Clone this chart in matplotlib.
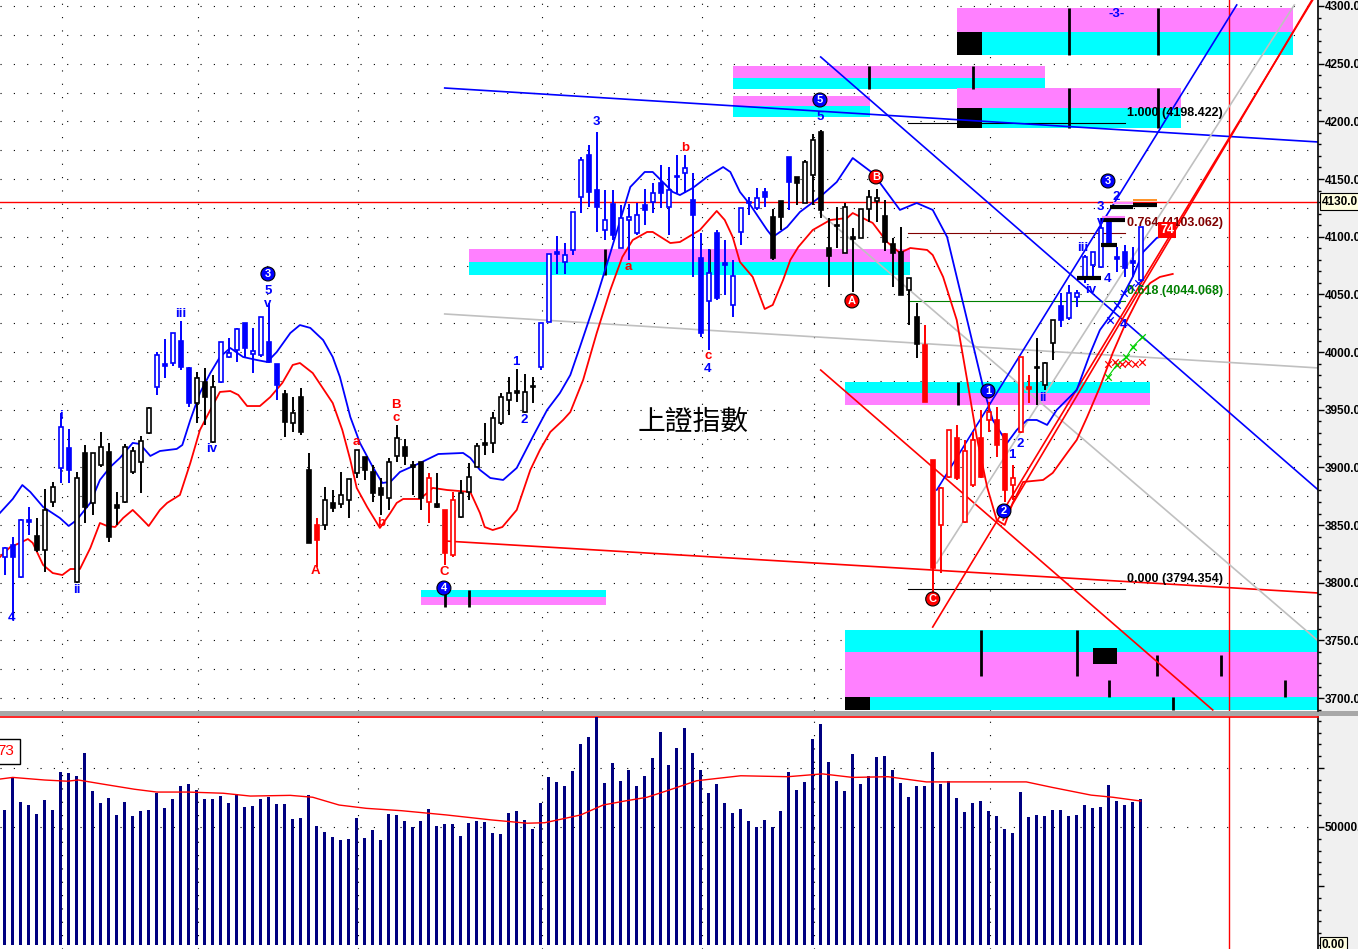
import matplotlib
matplotlib.use("Agg")
import matplotlib.pyplot as plt
import matplotlib.transforms as mtransforms
from matplotlib.patches import Rectangle
from matplotlib.ticker import MultipleLocator, FixedLocator, FuncFormatter

plt.rcParams['font.family'] = ['Liberation Sans', 'DejaVu Sans']

# ---------------- data ----------------
opens = [3822.3, 3832.7, 3805.0, 3853.0, 3840.5, 3828.4, 3870.0, 3899.5, 3916.8, 3800.7,
         3912.5, 3869.2, 3902.1, 3913.4, 3867.4, 3870.0, 3896.0, 3904.7, 3929.8, 3969.7,
         3987.9, 3990.5, 4009.6, 3986.2, 3955.8, 3974.0, 3922.0, 3974.0, 3995.7, 4001.8,
         4025.2, 3998.3, 3997.4, 4008.7, 3989.6, 3963.6, 3938.5, 3961.0, 3897.8, 3850.1,
         3850.1, 3869.2, 3868.3, 3871.7, 3895.2, 3909.0, 3896.0, 3882.2, 3873.5, 3909.9,
         3917.7, 3902.1, 3904.7, 3870.0, 3868.3, 3863.1, 3824.1, 3857.0, 3878.7, 3900.4,
         3919.4, 3921.2, 3938.5, 3958.4, 3964.5, 3948.0, 3970.5, 3987.0, 4026.1, 4085.0,
         4078.1, 4088.5, 4134.4, 4170.8, 4140.5, 4105.8, 4128.3, 4090.2, 4114.5, 4103.2,
         4127.5, 4130.1, 4146.6, 4125.7, 4151.8, 4155.2, 4131.8, 4081.5, 4044.3, 4103.2,
         4077.2, 4040.8, 4104.1, 4129.2, 4124.9, 4138.8, 4117.1, 4131.0, 4169.1, 4151.8,
         4129.2, 4153.5, 4190.8, 4090.2, 4110.1, 4085.9, 4099.7, 4098.9, 4124.0, 4131.0,
         4118.0, 4093.7, 4086.7, 4053.8, 4030.4, 4006.1, 3906.4, 3850.1, 3891.7, 3925.5,
         3852.7, 3884.8, 3925.5, 3941.1, 3941.1, 3929.0, 3884.8, 3930.7, 3968.0, 3987.0,
         3971.4, 4007.8, 4039.9, 4029.5, 4047.7, 4064.2, 4075.5, 4073.7, 4112.8, 4082.4,
         4086.7, 4077.5, 4062.5]
closes = [3830.1, 3822.3, 3854.4, 3854.4, 3828.4, 3863.1, 3883.0, 3935.0, 3897.8, 3890.8,
          3865.7, 3912.5, 3917.7, 3839.7, 3864.8, 3917.7, 3914.2, 3922.9, 3951.5, 3997.4,
          3989.6, 4016.5, 3987.0, 3955.8, 3977.5, 3961.0, 3969.7, 4008.7, 3999.2, 4020.0,
          4003.5, 4001.0, 4030.4, 3991.4, 3971.4, 3939.4, 3947.2, 3930.7, 3834.5, 3837.1,
          3871.7, 3864.8, 3876.1, 3889.9, 3915.1, 3897.8, 3877.8, 3876.1, 3904.7, 3925.5,
          3909.9, 3900.4, 3873.5, 3890.8, 3865.7, 3825.8, 3871.7, 3877.8, 3891.7, 3918.6,
          3921.2, 3942.8, 3961.0, 3964.5, 3966.2, 3965.4, 3969.7, 4025.2, 4085.0, 4086.7,
          4084.1, 4121.4, 4166.5, 4138.8, 4125.7, 4114.5, 4101.5, 4116.2, 4117.1, 4118.8,
          4123.2, 4137.9, 4137.9, 4140.5, 4152.6, 4159.6, 4118.8, 4016.5, 4068.5, 4046.9,
          4075.5, 4065.9, 4124.9, 4130.1, 4133.5, 4134.4, 4081.5, 4117.1, 4147.4, 4146.6,
          4164.8, 4183.8, 4123.2, 4083.3, 4109.3, 4125.7, 4098.0, 4124.0, 4134.4, 4133.5,
          4095.4, 4085.9, 4049.5, 4064.2, 4007.0, 3956.7, 3812.8, 3882.2, 3932.4, 3890.8,
          3914.2, 3923.8, 3891.7, 3948.0, 3919.4, 3880.4, 3890.8, 3995.7, 3969.0, 3986.2,
          3990.5, 4027.8, 4027.8, 4051.2, 4051.2, 4082.4, 4086.7, 4107.6, 4092.8, 4080.7,
          4072.9, 4078.5, 4108.4]
highs = [3831.0, 3839.7, 3855.0, 3865.7, 3856.1, 3881.3, 3887.4, 3947.2, 3933.3, 3896.0,
         3919.4, 3912.5, 3930.7, 3921.2, 3878.7, 3920.3, 3917.7, 3927.2, 3952.0, 4000.0,
         4011.3, 4016.8, 4027.0, 3987.0, 3982.7, 3986.2, 3980.1, 4009.0, 4012.2, 4020.5,
         4025.5, 4020.9, 4030.5, 4042.5, 3989.6, 3967.1, 3961.0, 3968.8, 3912.5, 3856.1,
         3883.0, 3880.4, 3896.0, 3890.0, 3915.3, 3909.2, 3902.1, 3890.8, 3908.2, 3936.8,
         3924.6, 3905.6, 3904.7, 3895.2, 3895.2, 3863.1, 3878.7, 3889.1, 3903.8, 3921.2,
         3938.5, 3948.0, 3964.5, 3978.4, 3985.3, 3981.0, 3978.4, 4025.2, 4085.0, 4100.6,
         4094.5, 4121.4, 4169.1, 4179.5, 4190.8, 4140.5, 4140.5, 4127.5, 4128.3, 4129.2,
         4141.4, 4146.6, 4162.2, 4160.4, 4170.8, 4170.8, 4155.2, 4103.2, 4089.3, 4105.8,
         4097.1, 4079.8, 4124.9, 4134.4, 4142.2, 4142.2, 4124.0, 4131.0, 4169.1, 4151.8,
         4166.5, 4189.0, 4192.5, 4116.2, 4125.7, 4129.2, 4107.6, 4124.0, 4140.5, 4141.4,
         4131.8, 4098.9, 4108.4, 4064.2, 4042.5, 4023.4, 3906.4, 3883.0, 3932.4, 3936.8,
         3923.8, 3930.7, 3949.8, 3956.7, 3952.4, 3929.8, 3902.1, 3995.7, 3980.1, 4012.2,
         3991.4, 4027.8, 4051.2, 4058.1, 4053.8, 4084.1, 4086.7, 4116.2, 4114.5, 4091.1,
         4092.8, 4091.1, 4108.4]
lows = [3806.7, 3767.7, 3804.0, 3841.4, 3826.7, 3809.3, 3865.7, 3886.5, 3886.5, 3799.8,
        3851.8, 3858.7, 3900.4, 3835.3, 3850.1, 3869.2, 3894.3, 3877.8, 3929.0, 3962.8,
        3977.5, 3987.9, 3984.4, 3952.4, 3938.5, 3936.8, 3921.2, 3973.0, 3994.8, 3991.4,
        3995.7, 3981.8, 3995.7, 3990.5, 3958.4, 3926.4, 3930.7, 3928.1, 3834.5, 3813.7,
        3845.8, 3861.3, 3864.8, 3856.1, 3890.8, 3889.1, 3870.0, 3858.7, 3863.1, 3904.7,
        3902.1, 3876.1, 3863.1, 3851.8, 3864.8, 3815.4, 3822.3, 3856.1, 3871.7, 3900.4,
        3910.8, 3912.5, 3936.8, 3945.4, 3956.7, 3947.2, 3955.8, 3984.4, 4026.1, 4067.7,
        4067.7, 4084.1, 4120.5, 4125.7, 4104.1, 4097.1, 4097.1, 4090.2, 4079.8, 4101.5,
        4110.1, 4120.5, 4124.9, 4101.5, 4137.9, 4137.9, 4065.1, 4013.0, 4001.8, 4045.1,
        4049.5, 4030.4, 4092.8, 4118.8, 4123.2, 4125.7, 4079.8, 4105.8, 4123.2, 4127.5,
        4129.2, 4127.5, 4116.2, 4056.4, 4090.2, 4085.9, 4052.1, 4098.9, 4112.8, 4112.8,
        4087.6, 4056.4, 4049.5, 4023.4, 3994.8, 3956.7, 3787.7, 3808.4, 3891.0, 3889.1,
        3851.8, 3883.0, 3891.0, 3930.7, 3909.0, 3870.0, 3871.7, 3930.0, 3955.8, 3954.1,
        3967.1, 3993.1, 4021.7, 4027.8, 4039.1, 4059.9, 4064.2, 4072.9, 4091.1, 4069.4,
        4065.1, 4065.1, 4060.7]
# wave colour of each candle: B blue, K black, R red
kinds = ("BBBB" "KKK" "BB" "KKKKKKKKKK" "BBBBB" "KKK" "BBBBBBBB" "KKKK" "R"
         "KKKKKKKKKKKKK" "R" "K" "RR" "KKKKKKKKKK" "BBBBBBBBBBBBBBBBBBBBBBBBBBBBB" "KK" "B"
         "KKKKKKKKKKKKKKKK" "RRRRRRRRRRRRRR" "KKK" "BBBBBBBBBBB")
volumes = [57200, 71000, 60600, 59300, 55500, 61400, 57200, 73400, 73000, 71600,
           81500, 65400, 60000, 62100, 55100, 60700, 54700, 56900, 57200, 64500,
           58200, 61900, 67400, 68200, 65700, 61900, 61900, 63100, 60300, 63800,
           58600, 58900, 61900, 62800, 59700, 59700, 53500, 53800, 63500, 50600,
           47900, 45900, 44500, 44900, 53800, 45500, 48700, 44500, 55500, 55100,
           52500, 50100, 52700, 57600, 50400, 51300, 51300, 46200, 51800, 52500,
           52100, 47600, 47000, 56100, 56800, 53000, 49300, 60300, 71300, 69200,
           67400, 73900, 85200, 88300, 96500, 68800, 77300, 69600, 74100, 67400,
           71600, 79400, 90400, 76300, 83300, 91800, 81500, 74100, 64500, 68200,
           60000, 56100, 57600, 52500, 50100, 53000, 50100, 56800, 73400, 65700,
           69100, 87300, 93600, 77500, 69500, 65400, 80900, 68200, 71600, 79700,
           80100, 74100, 68800, 62800, 67400, 67400, 81800, 68200, 69600, 62300,
           56400, 60000, 61100, 56800, 54700, 49300, 47600, 64800, 54100, 55100,
           54700, 57200, 57200, 54700, 55100, 59300, 57900, 58500, 67800, 61000,
           59300, 60700, 61900]
vol_ma_x = [-0.6, 1.0, 5.0, 7.8, 9.2, 12.2, 16.2, 19.0, 22.9, 27.3, 30.7, 35.7, 38.5, 41.8,
            45.2, 49.6, 55.2, 60.8, 65.3, 67.5, 72.0, 74.8, 77.5, 80.3, 83.1, 86.5, 92.0,
            97.9, 102.2, 106.0, 110.4, 115.2, 127.7, 130.9, 135.8, 138.5, 142.0]
vol_ma = [70300, 71000, 69900, 69400, 69900, 68200, 66000, 64800, 64800, 64300, 63100, 63400,
          62600, 59300, 57900, 56900, 55100, 53000, 51600, 51800, 55100, 59300, 61000, 62600,
          65700, 69600, 71700, 71300, 72500, 71000, 71300, 69100, 69100, 66800, 63500, 62600,
          61000]

# upper (blue) and lower (red) envelope curves
blue_env_x = [-0.6, 1.0, 2.2, 3.2, 4.8, 6.9, 8.0, 9.0, 10.7, 11.9, 13.2, 14.4, 16.0, 16.9,
              18.2, 19.4, 21.5, 22.2, 23.2, 24.4, 25.7, 26.9, 28.2, 29.8, 31.5, 32.8, 34.0,
              35.7, 36.9, 38.2, 39.8, 41.0, 41.9, 43.2, 44.4, 46.0, 47.2, 48.2, 49.4, 51.9,
              54.2, 57.3, 58.2, 59.4, 60.7, 62.3, 64.0, 66.0, 67.8, 69.4, 70.7, 71.9, 74.0,
              75.7, 78.2, 80.0, 81.0, 83.5, 84.4, 86.0, 87.8, 89.8, 90.7, 91.9, 93.2, 95.3,
              96.0, 97.8, 99.4, 101.9, 104.0, 106.0, 108.5, 111.9, 114.0, 116.0, 117.8,
              120.3, 122.3, 123.5, 125.3, 126.5, 127.8, 129.0, 130.3, 131.5, 134.0, 135.7,
              136.9, 139.0, 141.0, 142.3, 144.0, 146.0]
blue_env = [3860.5, 3872.6, 3884.7, 3878.7, 3865.7, 3856.1, 3849.2, 3854.4, 3869.2, 3889.1,
            3900.4, 3908.2, 3921.2, 3920.3, 3909.9, 3914.2, 3916.0, 3919.4, 3941.1, 3964.5,
            3981.8, 3995.7, 4003.5, 3995.7, 3993.1, 3991.4, 4000.0, 4016.5, 4023.4, 4020.9,
            4010.4, 3995.7, 3978.4, 3943.7, 3921.2, 3900.4, 3886.5, 3887.4, 3896.0, 3903.8,
            3911.6, 3912.5, 3908.2, 3897.8, 3890.8, 3889.1, 3899.5, 3926.4, 3949.8, 3964.5,
            3980.1, 4004.4, 4047.7, 4085.9, 4143.1, 4156.1, 4156.1, 4138.8, 4136.1, 4142.2,
            4151.8, 4160.4, 4156.1, 4138.8, 4127.5, 4105.8, 4099.7, 4108.4, 4121.4, 4134.4,
            4147.4, 4168.2, 4155.2, 4123.2, 4129.2, 4123.2, 4099.7, 4027.8, 3969.7, 3941.1,
            3921.2, 3932.4, 3941.1, 3941.1, 3936.8, 3949.8, 3967.1, 3999.2, 4019.1, 4039.1,
            4065.1, 4086.7, 4098.9, 4103.2]
red_env_x = [-0.6, 0.7, 1.9, 2.9, 3.5, 4.8, 6.0, 7.2, 8.2, 9.4, 10.7, 11.9, 12.8, 13.8, 14.8,
             16.0, 16.9, 18.0, 19.4, 20.3, 21.9, 23.2, 24.4, 25.7, 26.9, 28.2, 29.2, 30.3,
             31.9, 33.2, 34.7, 36.0, 36.9, 38.5, 41.0, 42.2, 43.2, 44.0, 45.3, 46.9, 48.2,
             49.0, 49.8, 51.9, 52.8, 53.5, 55.3, 58.2, 59.4, 60.0, 61.0, 62.2, 64.0, 65.7,
             66.9, 68.2, 69.8, 70.7, 72.3, 74.0, 75.7, 77.2, 78.5, 80.3, 81.0, 83.2, 84.4,
             86.9, 89.0, 90.0, 91.0, 91.9, 93.5, 95.0, 96.0, 97.3, 98.2, 99.2, 101.0, 103.2,
             105.3, 106.0, 108.5, 110.3, 111.9, 113.2, 115.3, 116.0, 117.3, 119.0, 120.3,
             121.5, 122.8, 124.0, 125.0, 126.0, 127.3, 129.8, 131.0, 132.8, 134.0, 135.3,
             136.9, 138.5, 140.3, 141.9, 143.2, 144.4, 146.0]
red_env = [3822.3, 3831.0, 3834.5, 3837.9, 3834.5, 3815.4, 3808.4, 3806.7, 3811.9, 3811.9,
           3830.1, 3851.8, 3849.2, 3848.3, 3856.1, 3863.1, 3857.0, 3849.2, 3863.1, 3869.2,
           3876.1, 3903.8, 3932.4, 3949.8, 3965.4, 3966.2, 3962.8, 3953.2, 3953.2, 3961.0,
           3973.2, 3988.8, 3990.5, 3981.8, 3955.8, 3932.4, 3906.4, 3882.2, 3865.7, 3847.5,
           3860.5, 3869.2, 3872.6, 3872.6, 3877.8, 3882.2, 3880.4, 3878.7, 3860.5, 3848.3,
           3845.7, 3848.3, 3863.1, 3897.8, 3915.1, 3930.7, 3941.1, 3948.0, 3975.8, 4016.5,
           4053.8, 4082.4, 4097.1, 4104.1, 4104.1, 4094.5, 4095.4, 4105.8, 4122.3, 4114.5,
           4099.7, 4078.1, 4065.1, 4037.3, 4040.8, 4062.5, 4079.8, 4091.1, 4105.8, 4114.5,
           4116.2, 4120.5, 4111.9, 4095.4, 4085.9, 4090.2, 4088.5, 4084.1, 4065.1, 4027.8,
           3975.8, 3926.4, 3883.0, 3854.4, 3850.1, 3869.2, 3887.4, 3889.1, 3895.2, 3912.5,
           3923.8, 3943.7, 3969.7, 3999.2, 4027.8, 4049.5, 4059.9, 4065.1, 4067.7]

# trend lines: (x0, p0, x1, p1, colour)
trend_lines = [
    (55.0, 4228.9, 164.2, 4182.1, '#0000ff'),
    (55.0, 4033.0, 164.2, 3986.2, '#c0c0c0'),
    (55.0, 3836.2, 164.2, 3791.1, '#ff0000'),
    (102.0, 4255.8, 164.2, 3880.4, '#0000ff'),
    (102.0, 3984.4, 151.0, 3689.7, '#ff0000'),
    (101.9, 4120.5, 164.2, 3749.5, '#c0c0c0'),
    (116.5, 3880.4, 154.0, 4300.9, '#0000ff'),
    (116.5, 3817.1, 161.2, 4300.9, '#c0c0c0'),
    (116.0, 3761.6, 163.5, 4305.2, '#ff0000'),
    (124.8, 3854.4, 163.4, 4305.2, '#ff0000'),
]

# fibonacci levels
fib_levels = [4198.422, 4103.062, 4044.068, 3794.354]
fib_names = ['1.000', '0.764', '0.618', '0.000']
fib_colors = ['#000000', '#800000', '#008000', '#000000']

# zone bands: (x0, x1, [(p_top, p_bottom, colour), ...])
bands = [
    (119.0, 161.0, [(4298.3, 4277.5, '#ff80ff'), (4277.5, 4257.5, '#00ffff')]),
    (91.0, 130.0, [(4248.0, 4237.6, '#ff80ff'), (4237.6, 4228.0, '#00ffff')]),
    (91.0, 108.2, [(4222.0, 4213.3, '#ff80ff'), (4213.3, 4203.8, '#00ffff')]),
    (119.0, 147.0, [(4228.9, 4211.6, '#ff80ff'), (4211.6, 4194.2, '#00ffff')]),
    (58.0, 113.2, [(4089.3, 4078.1, '#ff80ff'), (4078.1, 4066.8, '#00ffff')]),
    (105.0, 143.2, [(3974.0, 3964.5, '#00ffff'), (3964.5, 3954.1, '#ff80ff')]),
    (52.0, 75.2, [(3793.7, 3787.6, '#00ffff'), (3787.6, 3780.7, '#ff80ff')]),
    (105.0, 164.2, [(3759.0, 3739.9, '#00ffff'), (3739.9, 3701.0, '#ff80ff'),
                    (3701.0, 3689.7, '#00ffff')]),
]
# black blocks and ticks inside bands
band_blocks = [(119.0, 122.2, 4277.5, 4257.5), (119.0, 122.2, 4211.6, 4194.2),
               (105.0, 108.2, 3701.0, 3689.7), (136.0, 139.0, 3743.4, 3729.5)]
band_ticks = [(133.0, 4298.3, 4257.5), (144.2, 4298.3, 4257.5),
              (108.0, 4248.0, 4228.0), (121.0, 4248.0, 4228.0),
              (133.0, 4228.9, 4194.2), (144.2, 4228.9, 4194.2),
              (75.0, 4089.3, 4066.8), (88.0, 4089.3, 4066.8),
              (119.2, 3974.0, 3954.1),
              (55.0, 3793.7, 3779.0), (58.0, 3793.7, 3779.0),
              (122.0, 3759.0, 3719.1), (134.0, 3759.0, 3719.1), (138.0, 3715.7, 3701.0),
              (144.0, 3737.0, 3719.1), (152.0, 3737.0, 3719.1), (160.0, 3715.7, 3701.0),
              (146.0, 3701.0, 3689.7)]

# short target marks near the last bars: (x0, x1, price, colour, width)
targets = [(138.2, 141.0, 4125.7, '#000000', 3.0), (141.0, 144.0, 4127.5, '#000000', 3.0),
           (137.0, 140.0, 4114.5, '#000000', 3.0), (137.0, 139.0, 4092.8, '#000000', 3.0),
           (134.0, 137.0, 4064.2, '#000000', 3.0), (138.5, 141.0, 4129.5, '#ff80ff', 1.5),
           (137.2, 140.0, 4117.5, '#ff80ff', 1.5), (141.0, 144.0, 4131.5, '#ff8000', 1.2)]
cross_blue_x = [138.2, 139.0, 139.9, 140.8, 141.7]
cross_blue_p = [4027.8, 4040.8, 4051.2, 4056.4, 4059.9]
cross_green_x = [137.9, 139.0, 140.2, 141.0, 142.2]
cross_green_p = [3978.4, 3988.8, 3995.7, 4004.4, 4013.0]
cross_red_x = [137.9, 138.8, 139.7, 140.4, 141.3, 142.2]
cross_red_p = [3990.0, 3991.0, 3990.0, 3990.5, 3990.0, 3991.0]

# wave labels: (text, x, price, colour, circled)
waves = [
    ('4', 0.9, 3769.4, 'b', False), ('i', 7.0, 3944.5, 'b', False),
    ('ii', 9.0, 3793.7, 'b', False), ('iii', 22.0, 4033.0, 'b', False),
    ('iv', 25.9, 3916.0, 'b', False), ('3', 32.9, 4067.7, 'b', True),
    ('5', 32.9, 4053.0, 'b', False), ('v', 32.9, 4041.7, 'b', False),
    ('A', 38.9, 3810.2, 'r', False), ('a', 44.0, 3922.0, 'r', False),
    ('b', 47.0, 3851.8, 'r', False), ('B', 48.9, 3954.1, 'r', False),
    ('c', 48.9, 3942.8, 'r', False), ('C', 55.0, 3809.3, 'r', False),
    ('4', 54.9, 3795.4, 'b', True), ('1', 63.9, 3991.4, 'b', False),
    ('2', 64.9, 3941.1, 'b', False), ('3', 73.9, 4199.4, 'b', False),
    ('a', 78.0, 4073.7, 'r', False), ('b', 85.0, 4177.0, 'r', False),
    ('c', 87.9, 3996.6, 'r', False), ('4', 87.9, 3985.3, 'b', False),
    ('5', 101.9, 4218.5, 'b', True), ('5', 101.9, 4203.8, 'b', False),
    ('B', 108.9, 4151.8, 'r', True), ('A', 105.9, 4044.3, 'r', True),
    ('C', 116.0, 3785.9, 'r', True), ('1', 122.9, 3966.2, 'b', True),
    ('2', 124.9, 3862.2, 'b', True), ('1', 125.9, 3910.7, 'b', False),
    ('2', 126.9, 3920.3, 'b', False), ('ii', 129.8, 3960.2, 'b', False),
    ('iii', 134.8, 4090.2, 'b', False), ('iv', 135.7, 4053.8, 'b', False),
    ('4', 137.9, 4063.3, 'b', False), ('3', 137.9, 4148.3, 'b', True),
    ('3', 136.9, 4125.7, 'b', False), ('2', 138.9, 4134.4, 'b', False),
    ('v', 137.0, 4113.0, 'b', False),
    ('4', 139.8, 4023.4, 'b', False), ('-3-', 139.0, 4293.1, 'b', False),
]

month_lines = [7.1, 24.1, 44.1, 67.1, 87.1, 101.1, 123.1]
last_price = 4130.5
cursor_x = 153.0

# ---------------- figure ----------------
W, H = 1358, 949
fig = plt.figure(figsize=(W / 100, H / 100), dpi=100)
fig.patch.set_facecolor('white')


def px_box(x0, y0, x1, y1):
    return [x0 / W, 1 - y1 / H, (x1 - x0) / W, (y1 - y0) / H]


fig.patches.append(Rectangle((1319 / W, 0), 39 / W, 1, transform=fig.transFigure,
                             fc='#f0f0f0', ec='none', zorder=-5))
fig.patches.append(Rectangle((0, 1 - 716 / H), 1, 5 / H, transform=fig.transFigure,
                             fc='#a8a8a8', ec='none', zorder=-5))

ax = fig.add_axes(px_box(0, 0, 1318, 711))
axv = fig.add_axes(px_box(0, 717, 1318, 949), sharex=ax)
for a in (ax, axv):
    a.set_facecolor('white')
    for s in ('left', 'top', 'bottom'):
        a.spines[s].set_visible(False)
    a.spines['right'].set_linewidth(1.2)
    a.yaxis.tick_right()
    a.tick_params(axis='x', which='both', bottom=False, labelbottom=False)
    a.tick_params(axis='y', which='major', length=4, width=1, pad=1,
                  labelsize=8.5, direction='out')
    a.tick_params(axis='y', which='minor', length=2, width=1, direction='out')
    for xm in month_lines:
        a.axvline(xm, color='black', lw=0.8, ls=(0, (1, 11)), zorder=0)
axv.spines['top'].set_visible(True)
axv.spines['top'].set_color('#ff0000')
axv.spines['top'].set_linewidth(1.2)

ax.set_xlim(-0.59, 164.16)
ax.set_ylim(3688.8, 4305.2)
ax.yaxis.set_major_locator(MultipleLocator(50))
ax.yaxis.set_minor_locator(MultipleLocator(10))
ax.yaxis.set_major_formatter(FuncFormatter(lambda v, p: f'{v:.1f}'))
for lab in ax.get_yticklabels():
    lab.set_fontweight('bold')
for lvl in range(3700, 4301, 25):
    ax.axhline(lvl, color='black', lw=0.8, ls=(0, (1, 11)), zorder=0)

# bands
for x0, x1, parts in bands:
    for top, bot, col in parts:
        ax.add_patch(Rectangle((x0, bot), x1 - x0, top - bot, fc=col, ec='none', zorder=1))
for x0, x1, top, bot in band_blocks:
    ax.add_patch(Rectangle((x0, bot), x1 - x0, top - bot, fc='black', ec='none', zorder=1.5))
for xt, top, bot in band_ticks:
    ax.vlines(xt, bot, top, color='black', lw=2, zorder=1.5)

# reference lines
ax.axhline(last_price, color='#ff0000', lw=1, zorder=2)
ax.axvline(cursor_x, color='#ff0000', lw=1, zorder=2)
axv.axvline(cursor_x, color='#ff0000', lw=1, zorder=2)

for x0, p0, x1, p1, col in trend_lines:
    ax.plot([x0, x1], [p0, p1], color=col, lw=1.2, zorder=2.5)

for lvl, name, col in zip(fib_levels, fib_names, fib_colors):
    ax.plot([112.9, 140.0], [lvl, lvl], color=col, lw=0.8, zorder=2.4)
    ax.text(140.3, lvl + 3.5, f'{name} ({lvl:.3f})', color=col, fontsize=9,
            fontweight='bold', ha='left', va='bottom', zorder=6)

ax.plot(blue_env_x, blue_env, color='#0000ff', lw=1.3, zorder=2.6)
ax.plot(red_env_x, red_env, color='#ff0000', lw=1.3, zorder=2.6)

# candles
cmap = {'B': '#0000ff', 'K': '#000000', 'R': '#ff0000'}
for i, (o, h, l, c) in enumerate(zip(opens, highs, lows, closes)):
    col = cmap[kinds[i]]
    ax.vlines(i, l, h, color=col, lw=1.4, zorder=3)
    lo, hi = min(o, c), max(o, c)
    hgt = max(hi - lo, 1.6)
    hollow = (c - o) >= 2
    ax.bar(i, hgt, bottom=(lo + hi) / 2 - hgt / 2, width=0.55,
           color='white' if hollow else col, edgecolor=col, lw=1.2, zorder=4)

# target marks and crosses
for x0, x1, p, col, lw in targets:
    ax.plot([x0, x1], [p, p], color=col, lw=lw, solid_capstyle='butt', zorder=5)
ax.scatter(cross_blue_x, cross_blue_p, marker='x', s=22, color='#0000ff', lw=0.9, zorder=5)
ax.scatter(cross_green_x, cross_green_p, marker='x', s=22, color='#00d000', lw=0.9, zorder=5)
ax.plot(cross_green_x, cross_green_p, color='#00d000', lw=0.8, zorder=5)
ax.scatter(cross_red_x, cross_red_p, marker='x', s=22, color='#ff0000', lw=0.9, zorder=5)

# wave labels
wcol = {'b': '#0000ff', 'r': '#ff0000'}
for txt, x, p, c, circ in waves:
    if circ:
        ax.text(x, p, txt, color='white', fontsize=8, fontweight='bold', ha='center',
                va='center', zorder=7,
                bbox=dict(boxstyle='circle,pad=0.18', fc=wcol[c], ec='black', lw=0.8))
    else:
        ax.text(x, p, txt, color=wcol[c], fontsize=9.5, fontweight='bold',
                ha='center', va='center', zorder=7)
ax.text(145.3, 4106.0, '74', color='white', fontsize=9, fontweight='bold', ha='center',
        va='center', zorder=7, bbox=dict(boxstyle='square,pad=0.15', fc='#ff0000', ec='none'))

ax.text(86.0, 3939, '上證指數', fontsize=20, color='black', ha='center', va='center',
        family=['Noto Sans CJK TC', 'DejaVu Sans'], zorder=7)

trans = mtransforms.blended_transform_factory(ax.transAxes, ax.transData)
ax.text(1.003, last_price, '4130.0', transform=trans, fontsize=8.5, fontweight='bold',
        ha='left', va='center', clip_on=False, zorder=8,
        bbox=dict(boxstyle='square,pad=0.2', fc='#ffffe0', ec='black', lw=0.8))

# volume panel
axv.bar(range(len(volumes)), volumes, width=0.32, color='#000080', zorder=3)
axv.plot(vol_ma_x, vol_ma, color='#ff0000', lw=1.0, zorder=4)
axv.set_ylim(-1700, 96600)
axv.yaxis.set_major_locator(FixedLocator([25000, 50000, 75000]))
axv.yaxis.set_minor_locator(MultipleLocator(5000))
axv.yaxis.set_major_formatter(FuncFormatter(lambda v, p: '50000.0' if v == 50000 else ''))
for lab in axv.get_yticklabels():
    lab.set_fontweight('bold')
for lvl in (50000, 75000):
    axv.axhline(lvl, color='black', lw=0.8, ls=(0, (1, 11)), zorder=0)
transv = mtransforms.blended_transform_factory(axv.transAxes, axv.transData)
axv.text(1.003, 0, '0.00', transform=transv, fontsize=8.5, fontweight='bold', ha='left',
         va='center', clip_on=False,
         bbox=dict(boxstyle='square,pad=0.2', fc='#ffffe0', ec='black', lw=0.8))
axv.text(-0.9, 82000, '73', color='#ff0000', fontsize=11, ha='left', va='center',
         clip_on=False,
         bbox=dict(boxstyle='square,pad=0.35', fc='white', ec='black', lw=1))

fig.savefig('out.png', dpi=100)
